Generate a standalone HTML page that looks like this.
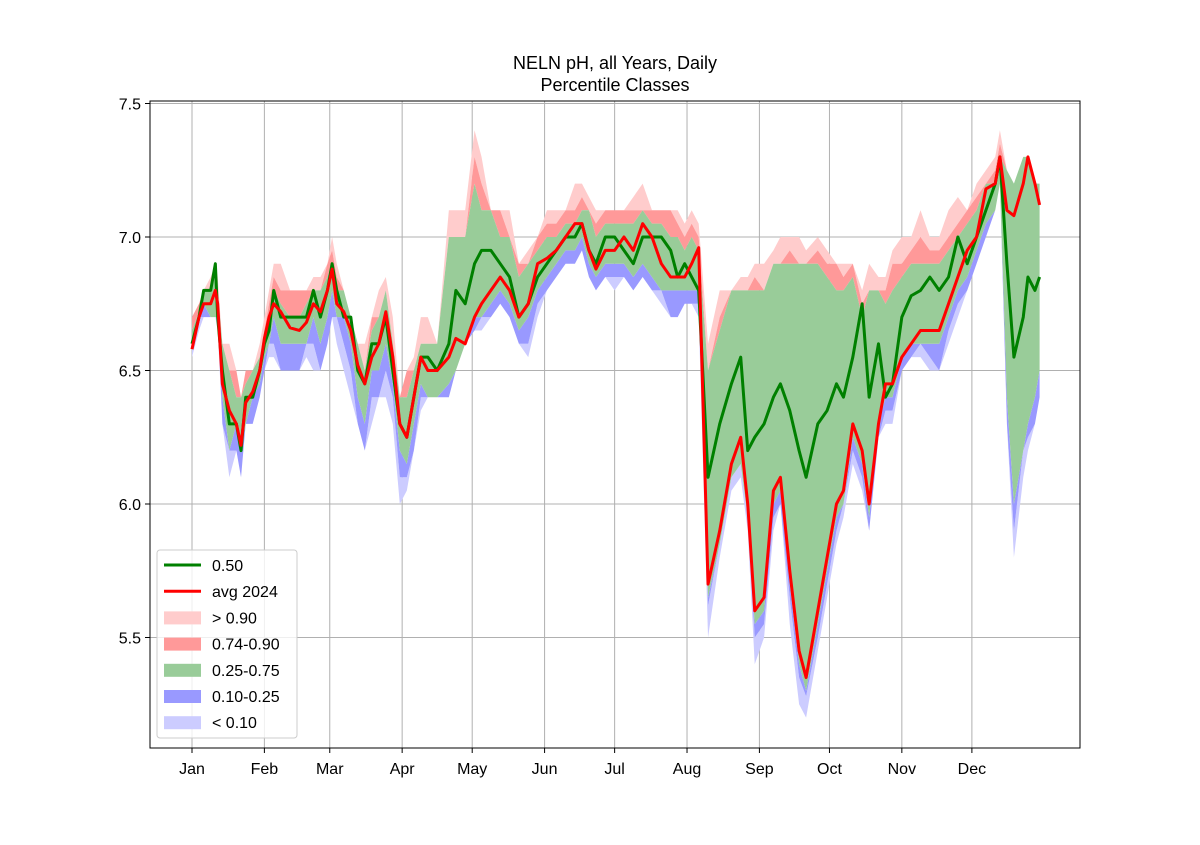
<!DOCTYPE html>
<html><head><meta charset="utf-8"><style>
body{margin:0;background:#fff;}
svg text{font-family:"Liberation Sans",sans-serif;}
</style></head><body>
<svg id="chart" width="1200" height="840" viewBox="0 0 1200 840" xmlns="http://www.w3.org/2000/svg">
<rect width="1200" height="840" fill="#fff"/>
<text x="615" y="69" font-size="18" text-anchor="middle">NELN pH, all Years, Daily</text>
<text x="615" y="91" font-size="18" text-anchor="middle">Percentile Classes</text>
<g id="grid"></g><g id="bands"></g><g id="lines"></g><g id="axes"></g><g id="legend"></g>
</svg>
<script>
const days=[0,3,5,8,10,11,13,16,19,21,23,26,29,31,33,35,38,42,46,49,52,55,58,60,62,65,68,71,74,77,80,83,86,89,92,95,98,101,105,110,113,117,121,124,128,132,136,140,144,148,152,156,160,164,167,170,173,177,181,185,189,193,197,201,205,208,211,214,217,221,226,231,235,238,241,245,249,252,256,260,263,268,272,276,279,283,287,290,294,297,300,304,308,312,316,320,324,328,332,336,340,344,346,349,352,356,358,361,363];
const median=[6.6,6.7,6.8,6.8,6.9,6.7,6.5,6.3,6.3,6.2,6.4,6.4,6.5,6.6,6.65,6.8,6.7,6.7,6.7,6.7,6.8,6.7,6.8,6.9,6.8,6.7,6.7,6.5,6.45,6.6,6.6,6.7,6.5,6.3,6.25,6.4,6.55,6.55,6.5,6.6,6.8,6.75,6.9,6.95,6.95,6.9,6.85,6.7,6.75,6.85,6.9,6.95,7.0,7.0,7.05,6.95,6.9,7.0,7.0,6.95,6.9,7.0,7.0,7.0,6.95,6.85,6.9,6.85,6.8,6.1,6.3,6.45,6.55,6.2,6.25,6.3,6.4,6.45,6.35,6.2,6.1,6.3,6.35,6.45,6.4,6.55,6.75,6.4,6.6,6.4,6.45,6.7,6.78,6.8,6.85,6.8,6.85,7.0,6.9,7.0,7.1,7.2,7.3,6.9,6.55,6.7,6.85,6.8,6.85];
const avg2024=[6.58,6.7,6.75,6.75,6.8,6.75,6.45,6.35,6.3,6.22,6.38,6.42,6.5,6.62,6.7,6.75,6.72,6.66,6.65,6.68,6.75,6.72,6.8,6.88,6.75,6.72,6.65,6.52,6.45,6.55,6.6,6.72,6.55,6.3,6.25,6.4,6.55,6.5,6.5,6.55,6.62,6.6,6.7,6.75,6.8,6.85,6.8,6.7,6.75,6.9,6.92,6.95,7.0,7.05,7.05,6.95,6.88,6.95,6.95,7.0,6.95,7.05,7.0,6.9,6.85,6.85,6.85,6.9,6.96,5.7,5.9,6.15,6.25,6.0,5.6,5.65,6.05,6.1,5.75,5.45,5.35,5.6,5.8,6.0,6.05,6.3,6.2,6.0,6.3,6.45,6.45,6.55,6.6,6.65,6.65,6.65,6.75,6.85,6.95,7.0,7.18,7.2,7.3,7.1,7.08,7.2,7.3,7.2,7.12];
const pMin=[6.55,6.65,6.7,6.7,6.7,6.65,6.3,6.1,6.2,6.1,6.3,6.3,6.4,6.5,6.55,6.55,6.5,6.5,6.5,6.55,6.5,6.5,6.6,6.7,6.6,6.5,6.4,6.3,6.2,6.3,6.4,6.4,6.3,6.0,6.05,6.2,6.35,6.4,6.4,6.4,6.5,6.6,6.65,6.65,6.7,6.75,6.7,6.6,6.55,6.7,6.8,6.85,6.9,6.9,6.95,6.85,6.8,6.85,6.8,6.85,6.8,6.85,6.8,6.75,6.7,6.7,6.75,6.75,6.7,5.5,5.8,6.05,6.1,5.9,5.4,5.5,5.9,6.0,5.55,5.25,5.2,5.45,5.65,5.85,5.95,6.15,6.05,5.9,6.25,6.3,6.3,6.5,6.55,6.55,6.5,6.5,6.6,6.7,6.8,6.9,7.0,7.1,7.2,6.3,5.8,6.1,6.2,6.3,6.4];
const p10=[6.6,6.7,6.7,6.7,6.7,6.7,6.3,6.2,6.2,6.1,6.3,6.3,6.4,6.5,6.6,6.6,6.5,6.5,6.5,6.6,6.6,6.5,6.6,6.7,6.7,6.6,6.5,6.3,6.2,6.4,6.4,6.5,6.4,6.1,6.1,6.2,6.4,6.4,6.4,6.4,6.5,6.6,6.65,6.7,6.7,6.75,6.7,6.6,6.6,6.75,6.8,6.85,6.9,6.9,6.95,6.85,6.8,6.85,6.85,6.85,6.8,6.85,6.8,6.8,6.7,6.7,6.75,6.75,6.75,5.62,5.85,6.1,6.15,5.95,5.5,5.55,5.95,6.0,5.65,5.35,5.28,5.5,5.7,5.9,6.0,6.2,6.1,5.9,6.25,6.35,6.35,6.5,6.55,6.6,6.55,6.5,6.65,6.75,6.8,6.9,7.0,7.1,7.2,6.3,5.9,6.2,6.25,6.3,6.4];
const p25=[6.6,6.7,6.75,6.7,6.7,6.7,6.4,6.2,6.3,6.2,6.3,6.4,6.45,6.55,6.6,6.7,6.6,6.6,6.6,6.6,6.7,6.6,6.7,6.8,6.7,6.7,6.6,6.4,6.3,6.5,6.5,6.6,6.45,6.2,6.15,6.3,6.45,6.4,6.4,6.45,6.5,6.6,6.7,6.7,6.75,6.8,6.75,6.65,6.7,6.8,6.85,6.9,6.95,6.95,7.0,6.9,6.85,6.9,6.9,6.9,6.85,6.9,6.85,6.8,6.8,6.8,6.8,6.8,6.8,5.65,5.85,6.1,6.15,5.95,5.55,5.6,6.0,6.05,5.7,5.4,5.3,5.55,5.75,5.95,6.0,6.25,6.15,5.95,6.3,6.4,6.4,6.55,6.6,6.6,6.6,6.6,6.7,6.8,6.85,6.95,7.05,7.1,7.2,6.4,6.0,6.2,6.3,6.4,6.5];
const p75=[6.65,6.72,6.8,6.8,6.9,6.8,6.6,6.5,6.4,6.4,6.45,6.5,6.55,6.65,6.7,6.8,6.75,6.7,6.7,6.75,6.8,6.8,6.85,6.9,6.8,6.8,6.7,6.6,6.5,6.65,6.7,6.8,6.6,6.4,6.4,6.5,6.6,6.6,6.6,7.0,7.0,7.0,7.2,7.1,7.1,7.0,7.0,6.85,6.9,6.95,7.0,7.0,7.05,7.05,7.1,7.1,7.0,7.05,7.05,7.05,7.05,7.1,7.05,7.05,7.0,7.0,6.95,7.0,6.95,6.5,6.65,6.8,6.8,6.8,6.8,6.8,6.9,6.9,6.9,6.9,6.9,6.9,6.85,6.8,6.8,6.85,6.7,6.8,6.8,6.75,6.8,6.85,6.9,6.9,6.9,6.9,6.95,7.0,7.05,7.1,7.2,7.2,7.3,7.25,7.2,7.3,7.3,7.2,7.2];
const p90=[6.7,6.75,6.8,6.8,6.9,6.8,6.6,6.5,6.5,6.4,6.5,6.5,6.55,6.65,6.75,6.85,6.8,6.8,6.8,6.8,6.8,6.8,6.9,6.95,6.85,6.8,6.7,6.6,6.5,6.7,6.7,6.8,6.6,6.4,6.5,6.5,6.6,6.6,6.6,7.0,7.0,7.0,7.3,7.2,7.1,7.1,7.0,6.9,6.9,7.0,7.05,7.05,7.1,7.1,7.15,7.1,7.05,7.1,7.1,7.1,7.1,7.1,7.1,7.1,7.1,7.05,7.0,7.05,7.0,6.5,6.7,6.8,6.8,6.8,6.85,6.8,6.9,6.9,6.95,6.9,6.9,6.95,6.9,6.9,6.85,6.9,6.75,6.8,6.8,6.8,6.9,6.9,6.95,7.0,6.95,6.95,7.0,7.05,7.1,7.15,7.2,7.25,7.35,7.25,7.2,7.3,7.3,7.2,7.2];
const pMax=[6.7,6.75,6.8,6.85,6.9,6.85,6.6,6.6,6.5,6.4,6.5,6.5,6.6,6.7,6.8,6.9,6.9,6.8,6.8,6.8,6.85,6.85,6.9,7.0,6.9,6.8,6.7,6.6,6.6,6.7,6.8,6.85,6.7,6.4,6.5,6.55,6.7,6.7,6.6,7.1,7.1,7.1,7.4,7.3,7.1,7.1,7.1,6.9,6.95,7.0,7.1,7.1,7.1,7.2,7.2,7.15,7.1,7.1,7.1,7.1,7.15,7.2,7.1,7.1,7.1,7.1,7.05,7.1,7.05,6.6,6.8,6.8,6.85,6.85,6.9,6.9,6.95,7.0,7.0,7.0,6.95,7.0,6.95,6.9,6.9,6.9,6.8,6.9,6.85,6.85,6.95,7.0,7.0,7.1,7.0,7.0,7.1,7.15,7.1,7.2,7.25,7.3,7.4,7.25,7.2,7.3,7.3,7.2,7.2];
const monthLabels=["Jan","Feb","Mar","Apr","May","Jun","Jul","Aug","Sep","Oct","Nov","Dec"];
const monthStartDays=[0,31,59,90,120,151,181,212,243,273,304,334];
const yTicks=[5.5,6.0,6.5,7.0,7.5];

const NS="http://www.w3.org/2000/svg";
const L=150,R=1080,T=101,B=748;
const X=d=>192+d*2.335;
const Y=v=>237-(v-7.0)*267;
function mk(tag,attrs,parent){const e=document.createElementNS(NS,tag);for(const k in attrs)e.setAttribute(k,attrs[k]);parent.appendChild(e);return e;}
const grid=document.getElementById('grid'),bands=document.getElementById('bands'),lines=document.getElementById('lines'),axes=document.getElementById('axes'),legend=document.getElementById('legend');

monthStartDays.forEach((d,i)=>{
  const g=mk('line',{x1:X(d),x2:X(d),y1:T,y2:B,stroke:'#b0b0b0','stroke-width':1},grid);
  
  
  const t=mk('line',{x1:X(d),x2:X(d),y1:B,y2:B+5,stroke:'#000'},axes);
  
  
  const lb=mk('text',{x:X(d),y:774,'font-size':16,'text-anchor':'middle'},axes);
  lb.textContent=monthLabels[i];
  
  
});
yTicks.forEach(v=>{
  const g=mk('line',{x1:L,x2:R,y1:Y(v),y2:Y(v),stroke:'#b0b0b0','stroke-width':1},grid);
  
  
  const t=mk('line',{x1:L-5,x2:L,y1:Y(v),y2:Y(v),stroke:'#000'},axes);
  
  
  const lb=mk('text',{x:L-9,y:Y(v)+6,'font-size':16,'text-anchor':'end'},axes);
  lb.textContent=v.toFixed(1);
  
  
});
const frame=mk('rect',{x:L,y:T,width:R-L,height:B-T,fill:'none',stroke:'#000','stroke-width':1},axes);



function band(lo,hi,color,name){
  let pts=days.map((d,i)=>X(d)+','+Y(hi[i]));
  for(let i=days.length-1;i>=0;i--)pts.push(X(days[i])+','+Y(lo[i]));
  const p=mk('polygon',{points:pts.join(' '),fill:color},bands);
  
  
}
band(pMin,p10,'#ccccff','band-below-010');
band(p10,p25,'#9999ff','band-010-025');
band(p90,pMax,'#ffcccc','band-above-090');
band(p75,p90,'#ff9999','band-074-090');
band(p25,p75,'#99cc99','band-025-075');

function line(vals,color,name){
  const p=mk('polyline',{points:days.map((d,i)=>X(d)+','+Y(vals[i])).join(' '),fill:'none',stroke:color,'stroke-width':3,'stroke-linejoin':'round'},lines);
  
  
}
line(median,'#008000','median-line');
line(avg2024,'#ff0000','avg-2024-line');

const lgBox=mk('rect',{x:157,y:550,width:140,height:188,fill:'#fff','fill-opacity':0.8,stroke:'#ccc',rx:3},legend);


const entries=[["0.50","line","#008000"],["avg 2024","line","#ff0000"],["> 0.90","rect","#ffcccc"],["0.74-0.90","rect","#ff9999"],["0.25-0.75","rect","#99cc99"],["0.10-0.25","rect","#9999ff"],["< 0.10","rect","#ccccff"]];
entries.forEach((e,i)=>{
  const y=565+i*26.2;
  const s = e[1]==='line' ? mk('line',{x1:164,x2:201,y1:y,y2:y,stroke:e[2],'stroke-width':3},legend)
                          : mk('rect',{x:164,y:y-6,width:37,height:13,fill:e[2]},legend);
  
  
  const t=mk('text',{x:212,y:y+6,'font-size':16},legend);
  t.textContent=e[0];
  
  
});
</script>
</body></html>
